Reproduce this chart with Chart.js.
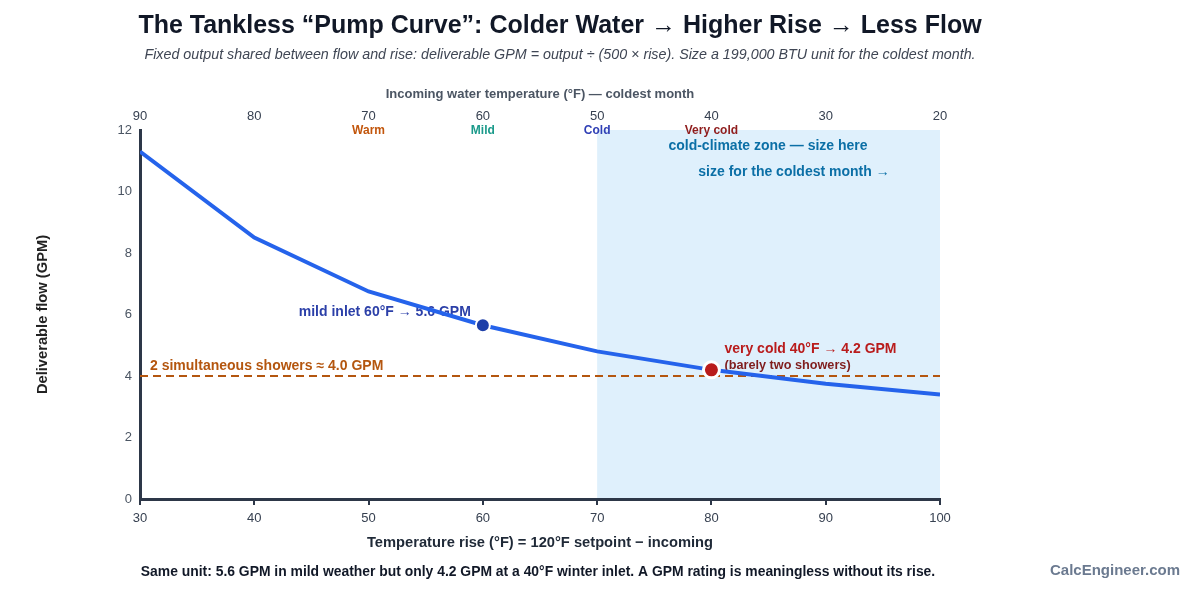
<!DOCTYPE html>
<html>
<head>
<meta charset="utf-8">
<script src="https://cdn.jsdelivr.net/npm/chart.js@4.4.1/dist/chart.umd.min.js"></script>
<style>
  body { margin: 0; background: #fff; }
  #wrap { width: 1200px; height: 600px; }
</style>
</head>
<body>
<div id="wrap"><canvas id="myChart" width="1200" height="600"></canvas></div>
<script>
// temperature rise (°F) and deliverable flow
const riseF = [30, 40, 50, 60, 70, 80, 90, 100];
const flowGpm = [11.3, 8.5, 6.75, 5.65, 4.8, 4.2, 3.75, 3.4];

// highlighted points: mild inlet and very cold inlet
const markerRise = [60, 80];
const markerFlow = [5.65, 4.2];

// two showers reference line
const showerRise = [30, 100];
const showerFlow = [4.0, 4.0];

// incoming water temperature = setpoint - rise
const setpoint = 120;
const zoneNames = ['Warm', 'Mild', 'Cold', 'Very cold'];
const zoneInlet = [70, 60, 50, 40];
const zoneColors = ['#c2560c', '#1a9a8a', '#2f3fb5', '#8f1d1d'];

// cold climate zone (rise range)
const coldZone = [70, 100];

const FONT = '"Liberation Sans", Arial, sans-serif';
Chart.defaults.font.family = FONT;

const annotations = {
  id: 'annotations',
  beforeDraw(chart) {
    const {ctx, chartArea: a, scales: {x}} = chart;
    const x0 = x.getPixelForValue(coldZone[0]);
    const x1 = x.getPixelForValue(coldZone[1]);
    ctx.save();
    ctx.fillStyle = '#dff0fc';
    ctx.fillRect(x0, a.top, x1 - x0, a.bottom - a.top);
    ctx.restore();
  },
  beforeDatasetsDraw(chart) {
    const {ctx, scales: {x, y}} = chart;
    ctx.save();
    ctx.textBaseline = 'middle';
    // zone captions
    ctx.font = 'bold 14px ' + FONT;
    ctx.fillStyle = '#0b6fa6';
    ctx.textAlign = 'center';
    ctx.fillText('cold-climate zone \u2014 size here', 768, 146);
    ctx.fillText('size for the coldest month \u2192', 794, 172);
    // showers line label
    ctx.textAlign = 'left';
    ctx.fillStyle = '#b4560f';
    ctx.fillText('2 simultaneous showers \u2248 4.0 GPM', x.left + 10, y.getPixelForValue(showerFlow[0]) - 10);
    // mild inlet label
    ctx.textAlign = 'right';
    ctx.fillStyle = '#2b3fa8';
    ctx.fillText('mild inlet 60\u00b0F \u2192 5.6 GPM', x.getPixelForValue(markerRise[0]) - 12, y.getPixelForValue(markerFlow[0]) - 13);
    // very cold label
    ctx.textAlign = 'left';
    ctx.fillStyle = '#b91c1c';
    const vx = x.getPixelForValue(markerRise[1]) + 13;
    const vy = y.getPixelForValue(markerFlow[1]);
    ctx.fillText('very cold 40\u00b0F \u2192 4.2 GPM', vx, vy - 21);
    ctx.font = 'bold 12.7px ' + FONT;
    ctx.fillStyle = '#7f1d1d';
    ctx.fillText('(barely two showers)', vx, vy - 4);
    ctx.restore();
  },
  afterDraw(chart) {
    const {ctx, scales: {x2}} = chart;
    ctx.save();
    ctx.textBaseline = 'middle';
    ctx.textAlign = 'center';
    // climate names under the top axis
    ctx.font = 'bold 12px ' + FONT;
    zoneNames.forEach((name, i) => {
      ctx.fillStyle = zoneColors[i];
      ctx.fillText(name, x2.getPixelForValue(zoneInlet[i]), 131);
    });
    // title block
    ctx.fillStyle = '#111827';
    ctx.font = 'bold 25px ' + FONT;
    ctx.fillText('The Tankless \u201cPump Curve\u201d: Colder Water \u2192 Higher Rise \u2192 Less Flow', 560, 26);
    ctx.fillStyle = '#3f4654';
    ctx.font = 'italic 14.3px ' + FONT;
    ctx.fillText('Fixed output shared between flow and rise: deliverable GPM = output \u00f7 (500 \u00d7 rise). Size a 199,000 BTU unit for the coldest month.', 560, 55);
    // footer
    ctx.fillStyle = '#111827';
    ctx.font = 'bold 13.9px ' + FONT;
    ctx.fillText('Same unit: 5.6 GPM in mild weather but only 4.2 GPM at a 40\u00b0F winter inlet. A GPM rating is meaningless without its rise.', 538, 572);
    ctx.textAlign = 'right';
    ctx.fillStyle = '#6b7a90';
    ctx.font = 'bold 15px ' + FONT;
    ctx.fillText('CalcEngineer.com', 1180, 571);
    ctx.restore();
  }
};

const toXY = (xs, ys) => xs.map((v, i) => ({x: v, y: ys[i]}));

const myChart = document.getElementById('myChart');

let curveChart = new Chart(myChart, {
  type: 'line',
  data: {
    datasets: [
      {
        label: 'mild',
        data: toXY([markerRise[0]], [markerFlow[0]]),
        showLine: false,
        pointRadius: 7,
        pointBackgroundColor: '#1e3fa8',
        pointBorderColor: '#ffffff',
        pointBorderWidth: 2,
        order: 1
      },
      {
        label: 'very cold',
        data: toXY([markerRise[1]], [markerFlow[1]]),
        showLine: false,
        pointRadius: 8,
        pointBackgroundColor: '#b91c1c',
        pointBorderColor: '#ffffff',
        pointBorderWidth: 3,
        order: 1
      },
      {
        label: 'flow',
        data: toXY(riseF, flowGpm),
        borderColor: '#2563eb',
        borderWidth: 4,
        pointRadius: 0,
        tension: 0,
        fill: false,
        order: 2
      },
      {
        label: 'showers',
        data: toXY(showerRise, showerFlow),
        borderColor: '#b4560f',
        borderWidth: 2,
        borderDash: [8, 5],
        pointRadius: 0,
        fill: false,
        order: 3
      }
    ]
  },
  options: {
    responsive: false,
    animation: false,
    layout: { padding: { left: 0, right: 260, top: 80, bottom: 40 } },
    plugins: {
      legend: { display: false },
      tooltip: { enabled: false }
    },
    scales: {
      x: {
        type: 'linear',
        position: 'bottom',
        min: 30,
        max: 100,
        ticks: { stepSize: 10, color: '#374151', font: { size: 13 }, padding: 6 },
        grid: { display: true, drawOnChartArea: false, drawTicks: true, tickLength: 6, color: '#2d3748', lineWidth: 2 },
        border: { display: true, color: '#2d3748', width: 3 },
        title: { display: true, text: 'Temperature rise (\u00b0F) = 120\u00b0F setpoint \u2212 incoming', color: '#1f2937', font: { size: 14.7, weight: 'bold' }, padding: { bottom: 8 } },
        afterFit: s => { s.height = 61; }
      },
      x2: {
        type: 'linear',
        position: 'top',
        min: setpoint - riseF[riseF.length - 1],
        max: setpoint - riseF[0],
        reverse: true,
        ticks: { stepSize: 10, color: '#374151', font: { size: 13 }, padding: -2 },
        grid: { display: false },
        border: { display: false },
        title: { display: true, text: 'Incoming water temperature (\u00b0F) \u2014 coldest month', color: '#4b5563', font: { size: 13, weight: 'bold' }, padding: { top: 7 } },
        afterFit: s => { s.height = 50; }
      },
      y: {
        min: 0,
        max: 12,
        ticks: { stepSize: 2, color: '#4b5563', font: { size: 13 }, padding: 0 },
        grid: { display: false },
        border: { display: true, color: '#2d3748', width: 3 },
        title: { display: true, text: 'Deliverable flow (GPM)', color: '#222', font: { size: 14.7, weight: 'bold' }, padding: { top: 34 } },
        afterFit: s => { s.width = 140; }
      }
    }
  },
  plugins: [annotations]
});
</script>
</body>
</html>
